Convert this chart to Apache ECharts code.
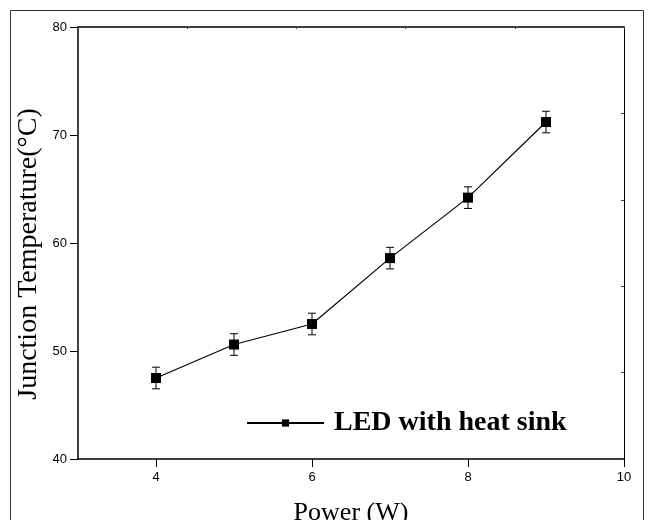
<!DOCTYPE html>
<html>
<head>
<meta charset="utf-8">
<script src="https://cdn.jsdelivr.net/npm/echarts@6/dist/echarts.min.js"></script>
<style>
  html, body { margin: 0; padding: 0; background: #fff; }
  #chart { width: 648px; height: 520px; }
</style>
</head>
<body>
<div id="chart"></div>
<script>
  // 功率 (W) 与结温 (°C)
  const powerW = [4, 5, 6, 7, 8, 9];
  const junctionTemp = [47.5, 50.6, 52.5, 58.6, 64.2, 71.2];
  const errTemp = [1.0, 1.0, 1.0, 1.0, 1.0, 1.0];
  const xTicks = [4, 6, 8, 10];

  const chart = echarts.init(document.getElementById('chart'));

  const lineData = powerW.map((p, i) => [p, junctionTemp[i]]);
  const errData = powerW.map((p, i) => [p, junctionTemp[i] - errTemp[i], junctionTemp[i] + errTemp[i]]);

  function renderErr(params, api) {
    const lo = api.coord([api.value(0), api.value(1)]);
    const hi = api.coord([api.value(0), api.value(2)]);
    const w = 4;
    const style = { stroke: '#000', lineWidth: 1, fill: null };
    return {
      type: 'group',
      children: [
        { type: 'line', shape: { x1: lo[0], y1: lo[1], x2: hi[0], y2: hi[1] }, style: style },
        { type: 'line', shape: { x1: lo[0] - w, y1: lo[1], x2: lo[0] + w, y2: lo[1] }, style: style },
        { type: 'line', shape: { x1: hi[0] - w, y1: hi[1], x2: hi[0] + w, y2: hi[1] }, style: style }
      ]
    };
  }

  const tickFont = { color: '#000', fontFamily: 'Liberation Sans', fontSize: 13 };

  const option = {
    backgroundColor: '#fff',
    animation: false,
    graphic: [{
      type: 'rect',
      shape: { x: 10.5, y: 10.5, width: 633, height: 540 },
      style: { fill: null, stroke: '#333', lineWidth: 1 },
      z: 0
    }],
    grid: { left: 78, right: 24, top: 27, bottom: 61, outerBoundsMode: 'none', containLabel: false },
    legend: {
      data: ['LED with heat sink'],
      left: 241,
      top: 404,
      itemWidth: 77,
      itemHeight: 9,
      textStyle: {
        fontFamily: 'Liberation Serif',
        fontWeight: 'bold',
        fontSize: 28,
        color: '#000',
        padding: [0, 0, 0, 5]
      }
    },
    xAxis: [{
      type: 'value',
      min: 3,
      max: 10,
      name: 'Power (W)',
      nameLocation: 'middle',
      nameGap: 41,
      nameMoveOverlap: false,
      nameTextStyle: { fontFamily: 'Liberation Serif', fontSize: 26, color: '#000' },
      axisLine: { lineStyle: { color: '#000', width: 1.5 } },
      axisTick: { show: true, inside: false, length: 8, customValues: xTicks, lineStyle: { color: '#000' } },
      axisLabel: Object.assign({ customValues: xTicks, margin: 12 }, tickFont),
      splitLine: { show: false }
    }, {
      type: 'value',
      position: 'top',
      min: 0,
      max: 5,
      interval: 1,
      axisLine: { lineStyle: { color: '#000', width: 1.5 } },
      axisTick: { inside: true, length: 2, lineStyle: { color: '#444' } },
      axisLabel: { show: false },
      splitLine: { show: false }
    }],
    yAxis: [{
      type: 'value',
      min: 40,
      max: 80,
      interval: 10,
      name: 'Junction Temperature(°C)',
      nameLocation: 'middle',
      nameGap: 35,
      nameMoveOverlap: false,
      nameTextStyle: { fontFamily: 'Liberation Serif', fontSize: 28, color: '#000', padding: [0, 0, 0, -22] },
      axisLine: { show: true, lineStyle: { color: '#000', width: 1.5 } },
      axisTick: { show: true, inside: false, length: 8, lineStyle: { color: '#000' } },
      axisLabel: Object.assign({ margin: 11 }, tickFont),
      splitLine: { show: false }
    }, {
      type: 'value',
      position: 'right',
      min: 0,
      max: 5,
      interval: 1,
      axisLine: { show: true, lineStyle: { color: '#000', width: 1 } },
      axisTick: { show: true, inside: true, length: 3, lineStyle: { color: '#444' } },
      axisLabel: { show: false },
      splitLine: { show: false }
    }],
    series: [{
      name: 'LED with heat sink',
      type: 'line',
      data: lineData,
      symbol: 'rect',
      symbolSize: 10,
      lineStyle: { color: '#000', width: 1.2 },
      itemStyle: { color: '#000' },
      z: 3
    }, {
      name: 'err',
      type: 'custom',
      renderItem: renderErr,
      data: errData,
      encode: { x: 0, y: [1, 2] },
      z: 2
    }]
  };

  chart.setOption(option);
</script>
</body>
</html>
